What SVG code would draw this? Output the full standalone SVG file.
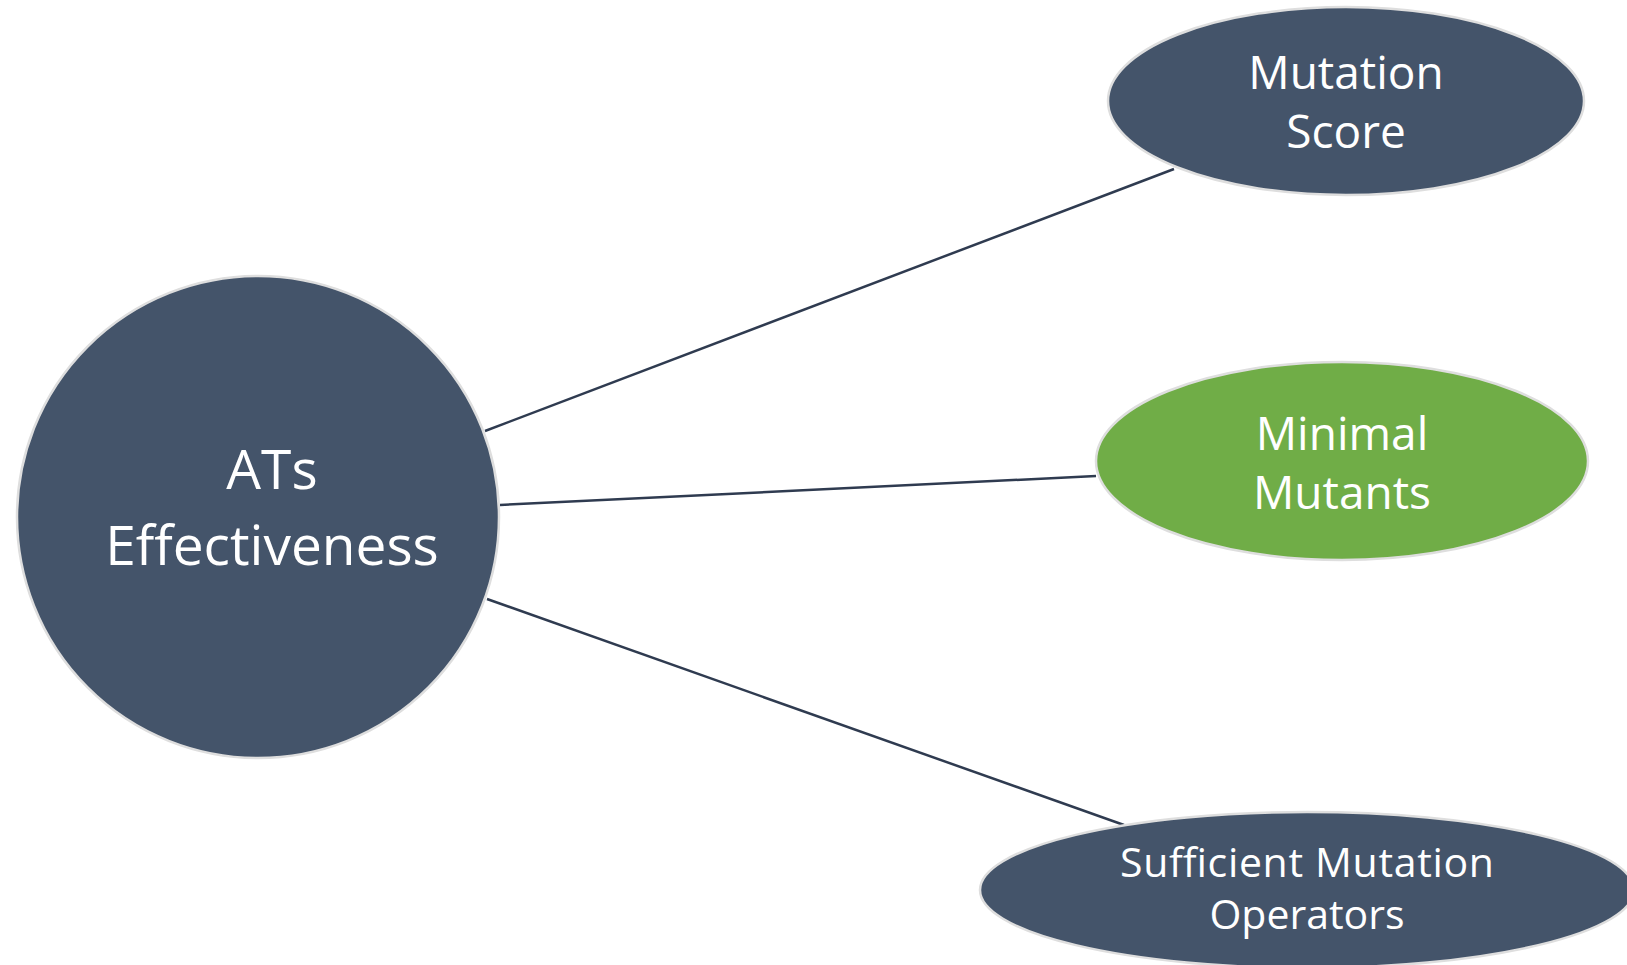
<svg xmlns="http://www.w3.org/2000/svg" width="1627" height="965" viewBox="0 0 1627 965">
<style>
.node{fill:#44546a;stroke:#dedede;stroke-width:2.5}
.green{fill:#70ad47;stroke:#dedede;stroke-width:2.5}
.lbl{font-family:"Open Sans","Liberation Sans",sans-serif;fill:#ffffff;text-anchor:middle}
.edge{stroke:#2f3b50;stroke-width:2.5;fill:none}
</style>
<rect width="1627" height="965" fill="#ffffff"/>
<g id="connectors">
<line class="edge" x1="485" y1="431" x2="1174" y2="169"/>
<line class="edge" x1="500" y1="505" x2="1096" y2="476"/>
<line class="edge" x1="487" y1="599" x2="1124" y2="825"/>
</g>
<g id="ats-effectiveness">
<circle class="node" cx="258" cy="517" r="241"/>
<text class="lbl" x="272" y="489" font-size="55">ATs</text>
<text class="lbl" x="272" y="565" font-size="55">Effectiveness</text>
</g>
<g id="mutation-score">
<ellipse class="node" cx="1346" cy="101" rx="238" ry="94"/>
<text class="lbl" x="1346" y="89" font-size="46">Mutation</text>
<text class="lbl" x="1346" y="148" font-size="46">Score</text>
</g>
<g id="minimal-mutants">
<ellipse class="green" cx="1342" cy="461" rx="246" ry="99"/>
<text class="lbl" x="1342" y="450" font-size="46">Minimal</text>
<text class="lbl" x="1342" y="509" font-size="46">Mutants</text>
</g>
<g id="sufficient-mutation-operators">
<ellipse class="node" cx="1307" cy="890" rx="327" ry="78"/>
<text class="lbl" x="1307" y="877" font-size="41" textLength="374" lengthAdjust="spacing">Sufficient Mutation</text>
<text class="lbl" x="1307" y="929" font-size="41">Operators</text>
</g>
</svg>
